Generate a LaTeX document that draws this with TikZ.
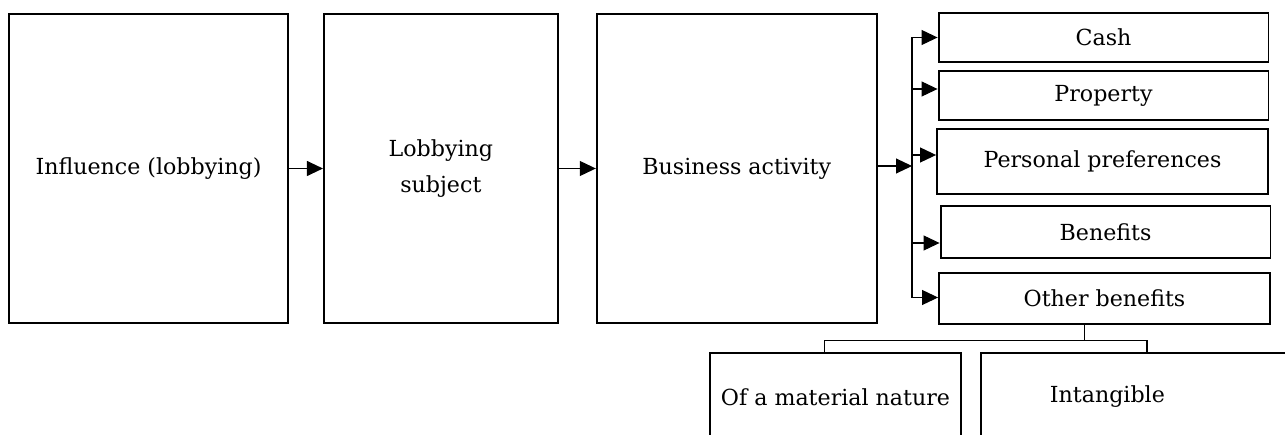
\documentclass[tikz,border=0pt]{standalone}
\usepackage{fontspec}
\setmainfont{DejaVu Serif}
\usepackage{tikz}
\usetikzlibrary{arrows.meta, positioning}

\begin{document}
\begin{tikzpicture}[x=0.02cm, y=-0.02cm,
      bigbox/.style={rectangle, draw, line width=1.1pt, minimum width=5.6cm, minimum height=6.18cm, align=center, inner sep=2pt, font=\fontsize{12.6}{20}\selectfont},
      sortbox/.style={bigbox, minimum width=6.6cm, minimum height=0.98cm},
      kindbox/.style={bigbox, minimum height=1.76cm},
      line/.style={line width=0.6pt},
      arr/.style={line, -{Triangle[length=0.32cm, width=0.3cm]}}]
      \useasboundingbox (0,0) rectangle (1285,435);
      \clip (0,0) rectangle (1285,435);
      % main chain
      \node[bigbox, minimum width=5.58cm] (infl) at (148.5,168.5) {Influence (lobbying)};
      \node[bigbox, minimum width=4.68cm, right=0.68cm of infl] (subj) {Lobbying\\subject};
      \node[bigbox, right=0.74cm of subj] (biz) {Business activity};
      % kinds of benefit
      \node[sortbox] (cash) at (1103.5,37.5) {Cash};
      \node[sortbox] (prop) at (1103.5,95.5) {Property};
      \node[sortbox, minimum width=6.62cm, minimum height=1.3cm] (pers) at (1102.5,161.5) {Personal preferences};
      \node[sortbox, minimum height=1.04cm] (bene) at (1105.5,232) {Benefits};
      \node[sortbox, minimum width=6.62cm, minimum height=1.02cm] (other) at (1104.5,298.5) {Other benefits};
      \node[kindbox, minimum width=5.02cm, anchor=north] (matr) at (835.5,352) {Of a material nature};
      \node[kindbox, minimum width=6.4cm, anchor=north west, text width=3.64cm, inner xsep=1.38cm, align=left] (intang) at (980,352) {Intangible};
      \coordinate (bus) at (912,166);
      \draw[arr] (infl) -- (subj);
      \draw[arr] (subj) -- (biz);
      \draw[arr] (biz.east |- bus) -- (bus);
      \draw[line] (bus |- cash.west) -- (bus |- other.west);
      \foreach \n/\s in {cash/0cm, prop/0.13cm, pers/0.13cm, bene/-0.22cm, other/0.02cm}
        \draw[arr] ([yshift=\s]bus |- \n.west) -- ([yshift=\s]\n.west);
      % split of other benefits
      \draw[line] ([xshift=-0.4cm]other.south) -- ++(0,-0.32cm) coordinate (split);
      \draw[line] ([xshift=-0.22cm]matr.north) |- (split) -| ([xshift=3.34cm]intang.north west);
    \end{tikzpicture}
\end{document}
